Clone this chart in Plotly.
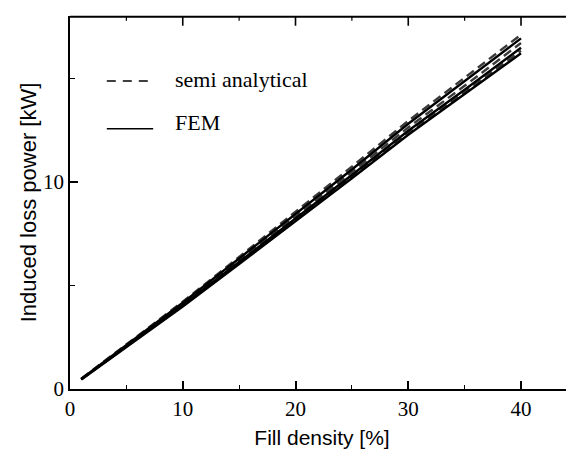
import plotly.graph_objects as go

# Fill density [%]
fill_density = [1, 5, 10, 15, 20, 25, 30, 35, 40]

# FEM results (solid) - induced loss power [kW]
fem_a = [0.46, 2.04, 3.98, 6.03, 8.08, 10.17, 12.27, 14.22, 16.20]
fem_b = [0.47, 2.08, 4.06, 6.13, 8.21, 10.33, 12.46, 14.44, 16.47]
fem_c = [0.49, 2.13, 4.17, 6.30, 8.43, 10.59, 12.80, 14.84, 16.92]

# semi analytical results (dashed)
semi_a = [0.47, 2.06, 4.02, 6.08, 8.14, 10.26, 12.36, 14.32, 16.33]
semi_b = [0.48, 2.11, 4.11, 6.21, 8.31, 10.47, 12.62, 14.63, 16.70]
semi_c = [0.50, 2.15, 4.21, 6.37, 8.53, 10.73, 12.94, 15.00, 17.10]

x_ticks = [0, 10, 20, 30, 40]
x_top_major = [10, 20, 30, 40]
x_top_minor = [5, 15, 25, 35]
y_ticks = [0, 10]
y_right_ticks = [10, 15]

legend_labels = ["semi analytical", "FEM"]

fig = go.Figure()

for ys in [semi_a, semi_b, semi_c]:
    fig.add_trace(go.Scatter(x=fill_density, y=ys, mode="lines",
                             line=dict(color="#3a3a3a", width=2.4, dash="9px,5px"),
                             showlegend=False, hoverinfo="skip"))
for ys in [fem_a, fem_b, fem_c]:
    fig.add_trace(go.Scatter(x=fill_density, y=ys, mode="lines",
                             line=dict(color="black", width=2.4),
                             showlegend=False, hoverinfo="skip"))

tickfont = dict(family="Liberation Serif, Times New Roman, serif", size=21, color="black")
titlefont = dict(family="Liberation Sans, Arial, sans-serif", size=21, color="black")

# page body has an 8px default margin -> figure is 8px smaller
fig.update_layout(
    width=566, height=449,
    margin=dict(l=62, r=0, t=8, b=68),
    paper_bgcolor="white", plot_bgcolor="white",
    showlegend=False,
    xaxis=dict(range=[0, 44.7], tickvals=x_ticks, ticktext=[str(v) for v in x_ticks],
               ticks="inside", ticklen=8, tickwidth=1.5, tickcolor="black",
               minor=dict(dtick=5, tick0=0, ticks="inside", ticklen=4, tickwidth=1.2, tickcolor="black"),
               showline=True, linecolor="black", linewidth=1.5, mirror=False,
               showgrid=False, zeroline=False, tickfont=tickfont, automargin=False,
               title=dict(text="Fill density [%]", font=titlefont, standoff=10)),
    yaxis=dict(range=[0, 18], tickvals=y_ticks, ticktext=[str(v) for v in y_ticks],
               ticks="inside", ticklen=8, tickwidth=1.5, tickcolor="black",
               minor=dict(dtick=5, tick0=0, ticks="inside", ticklen=5, tickwidth=1.2, tickcolor="black"),
               showline=True, linecolor="black", linewidth=1.5, mirror=False,
               showgrid=False, zeroline=False, tickfont=tickfont, automargin=False,
               title=dict(text="Induced loss power [kW]", font=dict(family="Liberation Sans, Arial, sans-serif", size=22, color="black"), standoff=0)),
)

# top frame line with its inward ticks (drawn just inside the plot area)
fig.add_shape(type="line", xref="paper", yref="paper", x0=0, x1=1, y0=0.998, y1=0.998,
              line=dict(color="black", width=2), layer="above")
for xv in x_top_major:
    fig.add_shape(type="line", xref="x", yref="paper", x0=xv, x1=xv, y0=0.998, y1=0.998 - 9 / 373,
                  line=dict(color="black", width=1.6), layer="above")
for xv in x_top_minor:
    fig.add_shape(type="line", xref="x", yref="paper", x0=xv, x1=xv, y0=0.998, y1=0.998 - 4 / 373,
                  line=dict(color="black", width=1.2), layer="above")
# right-hand inward ticks (frame line itself lies outside the picture)
for yv in y_right_ticks:
    fig.add_shape(type="line", xref="paper", yref="y", x0=0.999, x1=0.999 - 6 / 504, y0=yv, y1=yv,
                  line=dict(color="black", width=1.4), layer="above")

# legend drawn in paper coordinates
fig.add_shape(type="line", xref="paper", yref="paper", x0=0.073, x1=0.165, y0=0.826, y1=0.826,
              line=dict(color="black", width=1.5, dash="9px,7px"))
fig.add_shape(type="line", xref="paper", yref="paper", x0=0.073, x1=0.165, y0=0.698, y1=0.698,
              line=dict(color="black", width=1.5))
legend_font = dict(family="Liberation Serif, Times New Roman, serif", size=22, color="black")
fig.add_annotation(xref="paper", yref="paper", x=0.205, y=0.830, text=legend_labels[0],
                   showarrow=False, xanchor="left", yanchor="middle", font=legend_font)
fig.add_annotation(xref="paper", yref="paper", x=0.205, y=0.714, text=legend_labels[1],
                   showarrow=False, xanchor="left", yanchor="middle", font=legend_font)

fig.write_html("out.html")
